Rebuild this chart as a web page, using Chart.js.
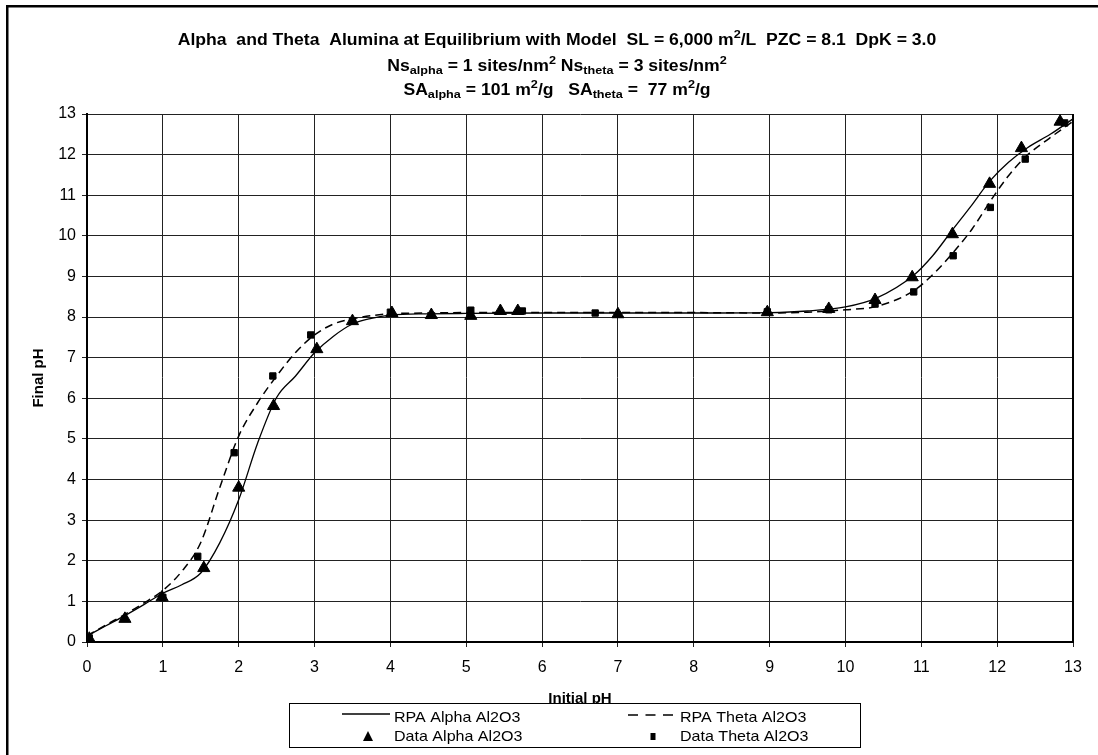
<!DOCTYPE html>
<html>
<head>
<meta charset="utf-8">
<script src="https://cdn.jsdelivr.net/npm/chart.js@4.4.1/dist/chart.umd.min.js"></script>
<style>
  html, body { margin: 0; padding: 0; background: #fff; }
  #wrap { width: 1098px; height: 755px; }
</style>
</head>
<body>
<div id="wrap"><canvas id="chart" width="1098" height="755"></canvas></div>
<script>
    // RPA model curves
    const modelAlphaX = [0, 0.25, 0.5, 0.75, 1, 1.25, 1.5, 1.75, 2, 2.25, 2.5, 2.75, 3, 3.25, 3.5, 3.75, 4, 4.5, 5, 6, 7, 8, 9, 9.5, 10, 10.4, 10.9, 11.15, 11.4, 11.65, 11.9, 12.15, 12.4, 12.7, 13];
    const modelAlphaY = [0.15, 0.4, 0.65, 0.92, 1.2, 1.41, 1.7, 2.44, 3.5, 4.9, 6.02, 6.55, 7.12, 7.53, 7.83, 7.97, 8.05, 8.08, 8.09, 8.1, 8.1, 8.1, 8.11, 8.15, 8.25, 8.46, 9.03, 9.51, 10.12, 10.72, 11.34, 11.81, 12.17, 12.5, 12.88];
    const modelThetaX = [0, 0.25, 0.5, 0.75, 1, 1.25, 1.5, 1.75, 2, 2.25, 2.5, 2.75, 3, 3.25, 3.6, 4, 4.5, 5, 6, 7, 8, 9, 9.5, 10, 10.4, 10.9, 11.18, 11.42, 11.67, 11.93, 12.15, 12.37, 12.68, 13];
    const modelThetaY = [0.15, 0.42, 0.68, 0.96, 1.27, 1.74, 2.45, 3.8, 5.07, 5.89, 6.55, 7.13, 7.56, 7.83, 7.99, 8.08, 8.1, 8.11, 8.11, 8.11, 8.11, 8.1, 8.12, 8.18, 8.26, 8.65, 9.1, 9.59, 10.17, 10.91, 11.48, 11.94, 12.39, 12.82];

    // measured data
    const alphaX = [0.03, 0.5, 0.99, 1.54, 2.0, 2.46, 3.03, 3.5, 4.02, 4.54, 5.06, 5.45, 5.68, 7.0, 8.97, 9.78, 10.39, 10.88, 11.41, 11.9, 12.32, 12.83];
    const alphaY = [0.08, 0.57, 1.1, 1.82, 3.8, 5.81, 7.21, 7.9, 8.1, 8.05, 8.03, 8.15, 8.15, 8.07, 8.12, 8.2, 8.42, 8.98, 10.04, 11.28, 12.16, 12.81];
    const thetaX = [0.03, 1.0, 1.46, 1.94, 2.45, 2.95, 3.5, 4.0, 5.06, 5.74, 6.7, 8.97, 9.78, 10.39, 10.9, 11.42, 11.91, 12.37, 12.89];
    const thetaY = [0.1, 1.1, 2.11, 4.66, 6.55, 7.56, 7.91, 8.12, 8.17, 8.15, 8.1, 8.13, 8.18, 8.32, 8.62, 9.51, 10.7, 11.89, 12.78];

    const seriesNames = ['RPA Alpha Al2O3', 'RPA Theta Al2O3', 'Data Alpha Al2O3', 'Data Theta Al2O3'];
    const axisTitles = { x: 'Initial pH', y: 'Final pH' };

    // title lines as runs (sup / sub for the small text)
    const titleLines = [
      [{ t: 'Alpha  and Theta  Alumina at Equilibrium with Model  SL = 6,000 m' }, { t: '2', s: 'sup' }, { t: '/L  PZC = 8.1  DpK = 3.0' }],
      [{ t: 'Ns' }, { t: 'alpha', s: 'sub' }, { t: ' = 1 sites/nm' }, { t: '2', s: 'sup' }, { t: ' Ns' }, { t: 'theta', s: 'sub' }, { t: ' = 3 sites/nm' }, { t: '2', s: 'sup' }],
      [{ t: 'SA' }, { t: 'alpha', s: 'sub' }, { t: ' = 101 m' }, { t: '2', s: 'sup' }, { t: '/g   SA' }, { t: 'theta', s: 'sub' }, { t: ' =  77 m' }, { t: '2', s: 'sup' }, { t: '/g' }]
    ];

    const FONT = '"Liberation Sans", Arial, sans-serif';
    const STRETCH = 1.1; // the original text is a bit wide

    function pts(xs, ys) {
      return xs.map((x, i) => ({ x: x, y: ys[i] }));
    }

    function drawRuns(ctx, runs, cx, y) {
      const big = 'bold 16px ' + FONT;
      const small = 'bold 11.5px ' + FONT;
      let total = 0;
      runs.forEach(r => {
        ctx.font = r.s ? small : big;
        r.w = ctx.measureText(r.t).width;
        total += r.w;
      });
      ctx.save();
      ctx.translate(cx, 0);
      ctx.scale(STRETCH, 1);
      let x = -total / 2;
      runs.forEach(r => {
        ctx.font = r.s ? small : big;
        const dy = r.s === 'sub' ? 4 : (r.s === 'sup' ? -6 : 0);
        ctx.fillText(r.t, x, y + dy);
        x += r.w;
      });
      ctx.restore();
    }

    function wideText(ctx, text, x, y) {
      ctx.save();
      ctx.translate(x, y);
      ctx.scale(1.07, 1);
      ctx.fillText(text, 0, 0);
      ctx.restore();
    }

    const decorPlugin = {
      id: 'decor',
      afterDraw(chart) {
        const ctx = chart.ctx;
        const area = chart.chartArea;
        ctx.save();
        ctx.fillStyle = '#000';

        // outer frame (runs off the right and bottom)
        ctx.fillRect(6, 5, 1100, 2.5);
        ctx.fillRect(6, 5, 2.5, 760);

        // right edge of the plot
        ctx.fillRect(area.right - 1, area.top, 2, area.bottom - area.top);

        // title
        ctx.textBaseline = 'middle';
        ctx.textAlign = 'left';
        const ys = [41, 67, 91];
        titleLines.forEach((line, i) => drawRuns(ctx, line, 557, ys[i]));

        // legend box
        const lx = 289, ly = 703, lw = 571, lh = 44;
        ctx.fillStyle = '#fff';
        ctx.fillRect(lx, ly, lw, lh);
        ctx.strokeStyle = '#000';
        ctx.lineWidth = 1;
        ctx.strokeRect(lx + 0.5, ly + 0.5, lw, lh);

        ctx.fillStyle = '#000';
        ctx.font = '15px ' + FONT;
        ctx.textBaseline = 'middle';

        // row 1: lines
        ctx.lineWidth = 1.3;
        ctx.beginPath();
        ctx.moveTo(342, 714);
        ctx.lineTo(390, 714);
        ctx.stroke();
        wideText(ctx, seriesNames[0], 394, 718);

        ctx.lineWidth = 1.6;
        ctx.setLineDash([10, 7.5]);
        ctx.beginPath();
        ctx.moveTo(628, 715);
        ctx.lineTo(673, 715);
        ctx.stroke();
        ctx.setLineDash([]);
        wideText(ctx, seriesNames[1], 680, 718);

        // row 2: markers
        ctx.beginPath();
        ctx.moveTo(368, 731);
        ctx.lineTo(373, 741);
        ctx.lineTo(363, 741);
        ctx.closePath();
        ctx.fill();
        wideText(ctx, seriesNames[2], 394, 737);

        ctx.fillRect(650.5, 733, 5, 7);
        wideText(ctx, seriesNames[3], 680, 737);

        ctx.restore();
      }
    };

    const ctx = document.getElementById('chart').getContext('2d');

    new Chart(ctx, {
      type: 'scatter',
      data: {
        datasets: [
          {
            label: seriesNames[0],
            data: pts(modelAlphaX, modelAlphaY),
            showLine: true,
            borderColor: '#000',
            borderWidth: 1.3,
            pointRadius: 0,
            cubicInterpolationMode: 'monotone'
          },
          {
            label: seriesNames[1],
            data: pts(modelThetaX, modelThetaY),
            showLine: true,
            borderColor: '#000',
            borderWidth: 1.5,
            borderDash: [8, 5],
            pointRadius: 0,
            cubicInterpolationMode: 'monotone'
          },
          {
            label: seriesNames[2],
            data: pts(alphaX, alphaY),
            pointStyle: 'triangle',
            pointRadius: 7,
            backgroundColor: '#000',
            borderColor: '#000',
            borderWidth: 1
          },
          {
            label: seriesNames[3],
            data: pts(thetaX, thetaY),
            pointStyle: 'rect',
            pointRadius: 4.5,
            backgroundColor: '#000',
            borderColor: '#000',
            borderWidth: 1
          }
        ]
      },
      options: {
        responsive: false,
        animation: false,
        devicePixelRatio: 1,
        layout: { padding: { left: 10, top: 114, right: 25, bottom: 0 } },
        scales: {
          x: {
            type: 'linear',
            min: 0,
            max: 13,
            ticks: {
              stepSize: 1,
              color: '#000',
              font: { family: FONT, size: 16 },
              padding: 11
            },
            grid: { color: '#222', lineWidth: 1, tickLength: 5, drawTicks: true },
            border: { display: true, color: '#000', width: 2 },
            title: {
              display: true,
              text: axisTitles.x,
              color: '#000',
              font: { family: FONT, size: 15, weight: 'bold' },
              padding: { top: 0, bottom: 47 }
            },
            afterFit(scale) { scale.height = 113; }
          },
          y: {
            type: 'linear',
            min: 0,
            max: 13,
            ticks: {
              stepSize: 1,
              color: '#000',
              font: { family: FONT, size: 16 },
              padding: 6
            },
            grid: { color: '#222', lineWidth: 1, tickLength: 5, drawTicks: true },
            border: { display: true, color: '#000', width: 2 },
            title: {
              display: true,
              text: axisTitles.y,
              color: '#000',
              font: { family: FONT, size: 15, weight: 'bold' },
              padding: { top: 20, bottom: 0 }
            },
            afterFit(scale) { scale.width = 77; }
          }
        },
        plugins: {
          legend: { display: false },
          title: { display: false },
          tooltip: { enabled: false }
        }
      },
      plugins: [decorPlugin]
    });
</script>
</body>
</html>
